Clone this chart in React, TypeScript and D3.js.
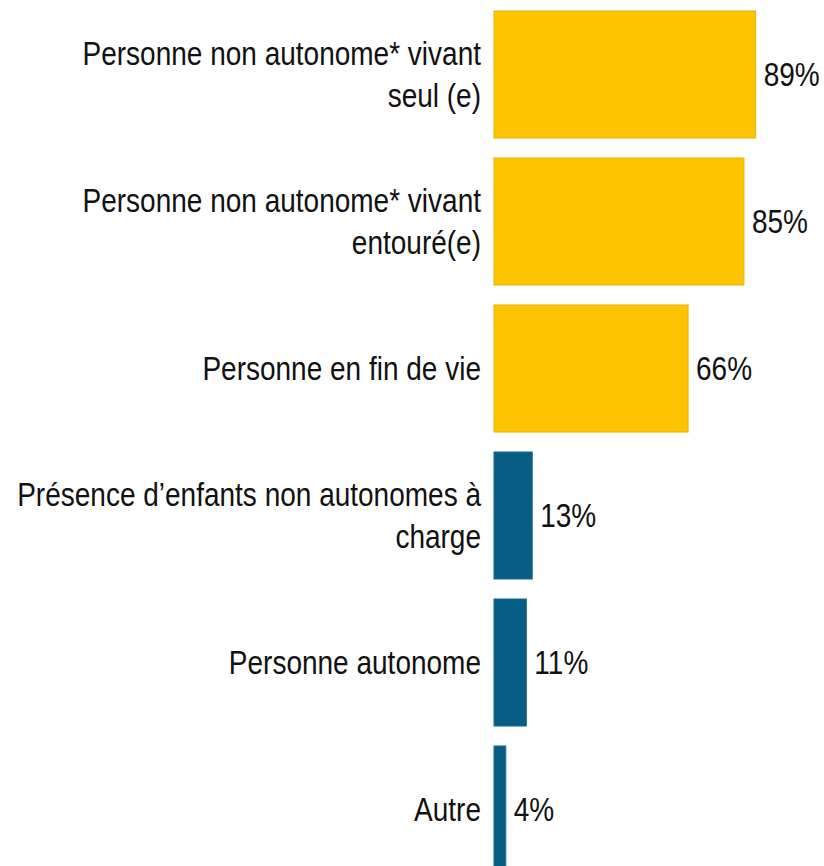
import { useEffect, useRef } from 'react';
import { scaleBand, scaleLinear, select } from 'd3';

// categories (line breaks as in the original)
const labels = [
  ['Personne non autonome* vivant', 'seul (e)'],
  ['Personne non autonome* vivant', 'entouré(e)'],
  ['Personne en fin de vie'],
  ['Présence d\u2019enfants non autonomes à', 'charge'],
  ['Personne autonome'],
  ['Autre'],
];
const values = [89, 85, 66, 13, 11, 4];
const groups = ['gold', 'gold', 'gold', 'blue', 'blue', 'blue'];

const W = 824;
const H = 866;
const SY = 1.17; // the original's text is a bit stretched vertically

export default function App() {
  const svgRef = useRef<SVGSVGElement>(null);

  useEffect(() => {
    const svg = select(svgRef.current);
    svg.selectAll('*').remove();

    const keys = labels.map((l, i) => String(i));
    const x = scaleLinear().domain([0, 100]).range([494, 788]);
    const y = scaleBand().domain(keys).range([1, 883]).paddingInner(0.136).paddingOuter(0.068);
    const mid = (i: number) => y(keys[i])! + y.bandwidth() / 2;

    const fill = { gold: '#FEC400', blue: '#075E84' };
    const stroke = { gold: '#E9B200', blue: '#1A6A8E' };

    const g = svg.append('g');

    g.selectAll('rect')
      .data(values)
      .join('rect')
      .attr('x', x(0))
      .attr('y', (d, i) => y(keys[i])!)
      .attr('width', d => x(d) - x(0))
      .attr('height', y.bandwidth())
      .attr('fill', (d, i) => fill[groups[i]])
      .attr('stroke', (d, i) => stroke[groups[i]])
      .attr('stroke-width', 1);

    // value labels
    g.selectAll('text.val')
      .data(values)
      .join('text')
      .attr('class', 'val')
      .attr('transform', (d, i) => `translate(${x(d) + 8},${mid(i)}) scale(1,${SY})`)
      .attr('dy', '0.35em')
      .text(d => d + '%');

    // category labels
    labels.forEach((lines, i) => {
      const t = g.append('text')
        .attr('transform', `translate(${x(0) - 13},${mid(i)}) scale(1,${SY})`)
        .attr('text-anchor', 'end');
      lines.forEach((line, j) => {
        const off = (j - (lines.length - 1) / 2) * 42 / SY;
        t.append('tspan')
          .attr('x', 0)
          .attr('y', off)
          .attr('dy', '0.35em')
          .text(line);
      });
    });

    g.selectAll('text')
      .attr('font-family', '"Liberation Sans", Arial, sans-serif')
      .attr('font-size', 28)
      .attr('fill', '#111');
  }, []);

  return (
    <svg
      ref={svgRef}
      width={W}
      height={H}
      style={{ position: 'absolute', left: 0, top: 0, background: '#fff' }}
    />
  );
}
